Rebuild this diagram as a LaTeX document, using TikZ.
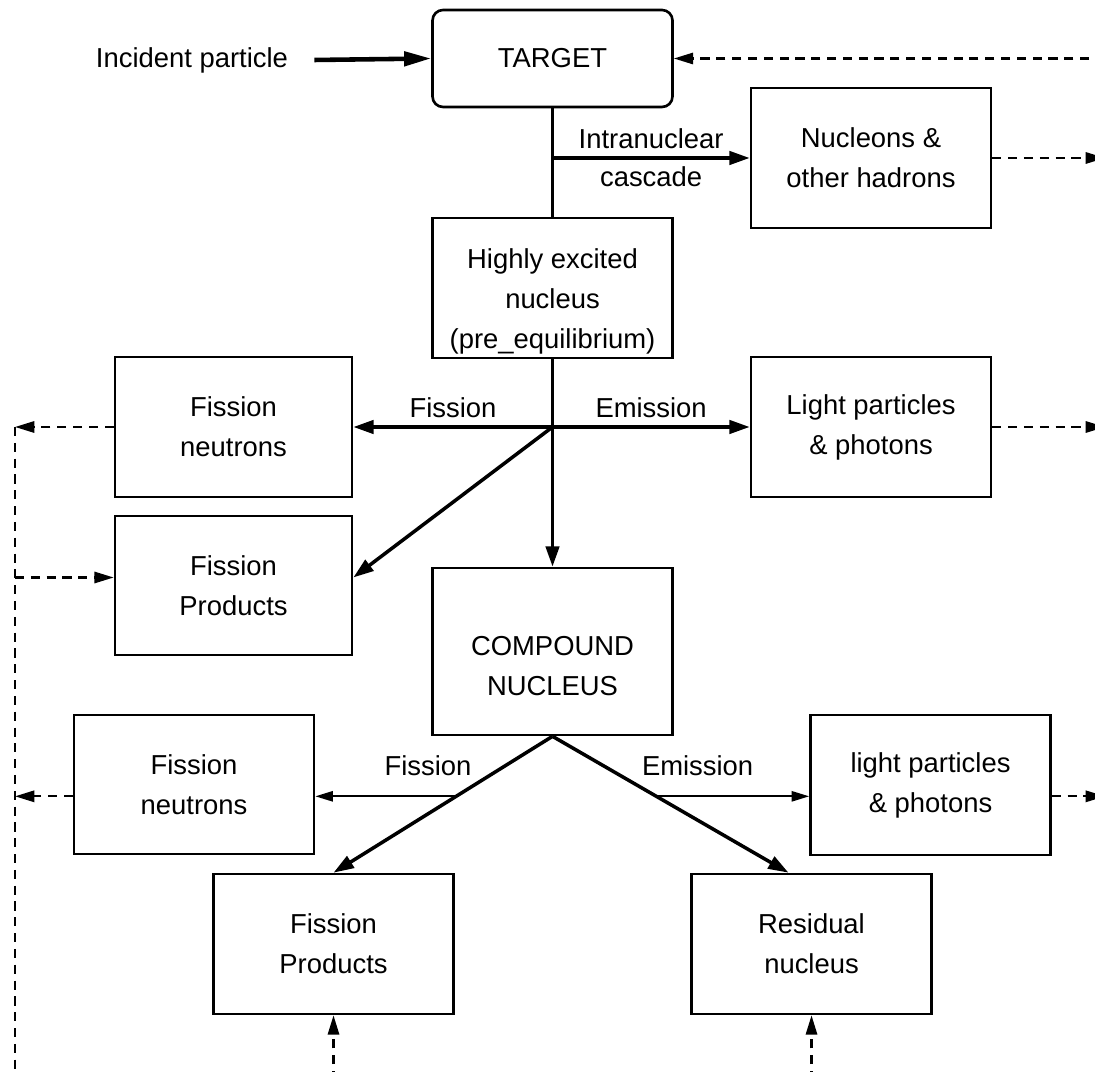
\documentclass[tikz,border=0pt]{standalone}
\usepackage{fontspec}
\setmainfont{Liberation Sans}
\usetikzlibrary{arrows.meta, positioning}
\tikzset{
  box/.style={draw, line width=0.75pt, align=center, inner sep=2pt, minimum width=2.4cm, minimum height=1.4cm, font=\fontsize{7.8}{11.4}\selectfont},
  txt/.style={font=\fontsize{7.8}{11.4}\selectfont, align=center},
  arr/.style={-{Triangle[length=5.8pt, width=3.8pt]}, line width=1pt},
  thinarr/.style={-{Triangle[length=5pt, width=2.9pt]}, line width=0.6pt},
  inarr/.style={-{Triangle[length=7.7pt, width=4pt]}, line width=1.3pt},
  dsh/.style={line width=0.65pt, dash pattern=on 2.6pt off 1.9pt},
  dsharr/.style={dsh, -{Triangle[length=5.5pt, width=3.2pt]}},
  lbl/.style={txt, inner sep=2pt}
}

\begin{document}
\begin{tikzpicture}
    \useasboundingbox (0,0) rectangle (10.95,-10.72);
    \node[box, rounded corners=3pt, minimum height=0.97cm] (tgt) at (5.525,-0.585) {TARGET};
    \node[txt] (inc) at (1.92,-0.60) {Incident particle};
    \node[box] (nuc) at (8.71,-1.58) {Nucleons \&\\other hadrons};
    \node[box, inner ysep=0pt, text height=35.9pt] (hen) at (5.525,-2.88) {Highly excited\\nucleus\\(pre\_equilibrium)};
    \node[box, minimum width=2.37cm] (fn1) at (2.335,-4.27) {Fission\\neutrons};
    \node[box] (lp1) at (8.71,-4.27) {Light particles\\\& photons};
    \node[box, minimum width=2.37cm, minimum height=1.39cm] (fp1) at (2.335,-5.855) {Fission\\Products};
    \node[box, minimum height=1.67cm, text height=25pt] (cn) at (5.525,-6.515) {COMPOUND\\NUCLEUS};
    \node[box, minimum height=1.39cm] (fn2) at (1.94,-7.845) {Fission\\neutrons};
    \node[box] (lp2) at (9.305,-7.85) {light particles\\\& photons};
    \node[box] (fp2) at (3.335,-9.44) {Fission\\Products};
    \node[box] (res) at (8.115,-9.44) {Residual\\nucleus};

    \coordinate (jn) at (hen.south |- fn1.east);
    \coordinate (ic) at (tgt.south |- nuc.west);
    \coordinate (rside) at (11.05,-0.585);
    \coordinate (lside) at (0.15,-4.27);
    \coordinate (lbot) at (0.15,-10.8);
    \coordinate (fpin) at ([yshift=0.08cm]fp1.east);

    \draw[inarr] ([xshift=0.14cm]inc.east) -- (tgt.west);
    \draw[line width=1pt] (tgt.south) -- (hen.north);
    \draw[arr] (ic) -- node[lbl, above] {Intranuclear} node[lbl, below] {cascade} (nuc.west);
    \draw[arr] (hen.south) -- (cn.north);
    \draw[arr] (jn) -- node[lbl, above] {Fission} (fn1.east);
    \draw[arr] (jn) -- node[lbl, above] {Emission} (lp1.west);
    \draw[arr] (jn) -- (fpin);
    \draw[arr] (cn.south) -- coordinate[pos=0.44] (lf) (fp2.north);
    \draw[arr] (cn.south) -- coordinate[pos=0.44] (rf) ([xshift=-0.23cm]res.north);
    \draw[thinarr] (lf) -- node[lbl, above=0.12cm, pos=0.2] {Fission} (lf -| fn2.east);
    \draw[thinarr] (rf) -- node[lbl, above=0.12cm, pos=0.27] {Emission} (rf -| lp2.west);

    \draw[dsharr] (rside) -- (tgt.east);
    \draw[dsharr] (nuc.east) -- (nuc.east -| rside);
    \draw[dsharr] (lp1.east) -- (lp1.east -| rside);
    \draw[dsharr] (rf -| lp2.east) -- (rf -| rside);
    \draw[dsharr] (fn1.west) -- (lside);
    \draw[dsh] (lside) -- (lbot);
    \draw[dsharr] (lside |- fpin) -- (fpin -| fp1.west);
    \draw[dsharr] (lf -| fn2.west) -- (lf -| lside);
    \draw[dsharr] (fp2.south |- lbot) -- (fp2.south);
    \draw[dsharr] (res.south |- lbot) -- (res.south);
\end{tikzpicture}
\end{document}
